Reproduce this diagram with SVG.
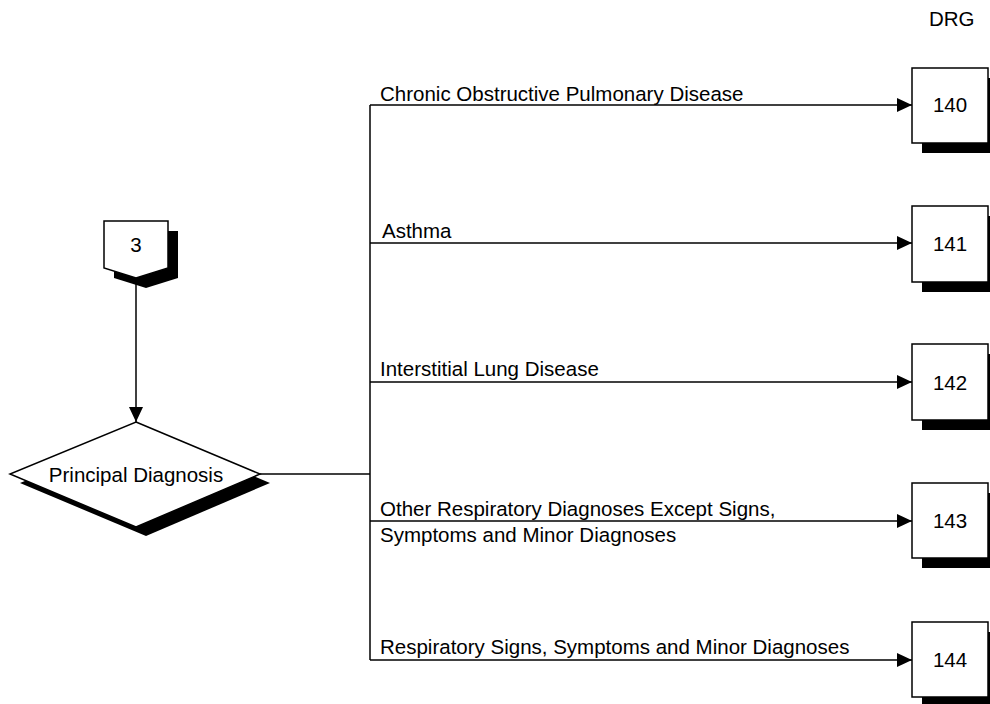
<svg xmlns="http://www.w3.org/2000/svg" width="990" height="704" viewBox="0 0 990 704">
<style>
text{font-family:"Liberation Sans",Arial,sans-serif;font-size:20.5px;fill:#000}
.sh{fill:#000;stroke:none}
.nd{fill:#fff;stroke:#000;stroke-width:1.5}
.ln{fill:none;stroke:#000;stroke-width:1.5}
</style>
<defs>
<marker id="ah" markerUnits="userSpaceOnUse" markerWidth="16" markerHeight="16" viewBox="0 0 16 16" refX="15" refY="8" orient="auto">
<path d="M0,1 L15,8 L0,15 Z" fill="#000"/>
</marker>
</defs>
<rect width="990" height="704" fill="#fff"/>
<text id="drg" x="929" y="26">DRG</text>
<g id="connectors">
<line class="ln" x1="136" y1="278" x2="136" y2="422" marker-end="url(#ah)"/>
<polyline class="ln" points="260,474 370,474"/>
<line class="ln" x1="370" y1="105" x2="370" y2="660"/>
<line class="ln" x1="370" y1="105" x2="912" y2="105" marker-end="url(#ah)"/>
<line class="ln" x1="370" y1="243" x2="912" y2="243" marker-end="url(#ah)"/>
<line class="ln" x1="370" y1="382" x2="912" y2="382" marker-end="url(#ah)"/>
<line class="ln" x1="370" y1="521" x2="912" y2="521" marker-end="url(#ah)"/>
<line class="ln" x1="370" y1="660" x2="912" y2="660" marker-end="url(#ah)"/>
<text x="380" y="101">Chronic Obstructive Pulmonary Disease</text>
<text x="382" y="238">Asthma</text>
<text x="380" y="376">Interstitial Lung Disease</text>
<text x="380" y="516">Other Respiratory Diagnoses Except Signs,</text>
<text x="380" y="542">Symptoms and Minor Diagnoses</text>
<text x="380" y="654">Respiratory Signs, Symptoms and Minor Diagnoses</text>
</g>
<g id="node-3">
<polygon class="sh" points="114,231 178,231 178,278 146,288 114,278"/>
<polygon class="nd" points="104,221 168,221 168,268 136,278 104,268"/>
<text x="136" y="252" text-anchor="middle">3</text>
</g>
<g id="node-principal">
<polygon class="sh" points="146,431 270,483 146,536 20,483"/>
<polygon class="nd" points="136,422 260,474 136,527 10,474"/>
<text x="136" y="482" text-anchor="middle">Principal Diagnosis</text>
</g>
<g id="node-140">
<rect class="sh" x="922" y="78" width="76" height="75"/>
<rect class="nd" x="912" y="68" width="76" height="75"/>
<text x="950" y="112" text-anchor="middle">140</text>
</g>
<g id="node-141">
<rect class="sh" x="922" y="216" width="76" height="76"/>
<rect class="nd" x="912" y="206" width="76" height="76"/>
<text x="950" y="251" text-anchor="middle">141</text>
</g>
<g id="node-142">
<rect class="sh" x="922" y="354" width="76" height="76"/>
<rect class="nd" x="912" y="344" width="76" height="76"/>
<text x="950" y="390" text-anchor="middle">142</text>
</g>
<g id="node-143">
<rect class="sh" x="922" y="493" width="76" height="75"/>
<rect class="nd" x="912" y="483" width="76" height="75"/>
<text x="950" y="528" text-anchor="middle">143</text>
</g>
<g id="node-144">
<rect class="sh" x="922" y="632" width="76" height="75"/>
<rect class="nd" x="912" y="622" width="76" height="75"/>
<text x="950" y="667" text-anchor="middle">144</text>
</g>
</svg>
